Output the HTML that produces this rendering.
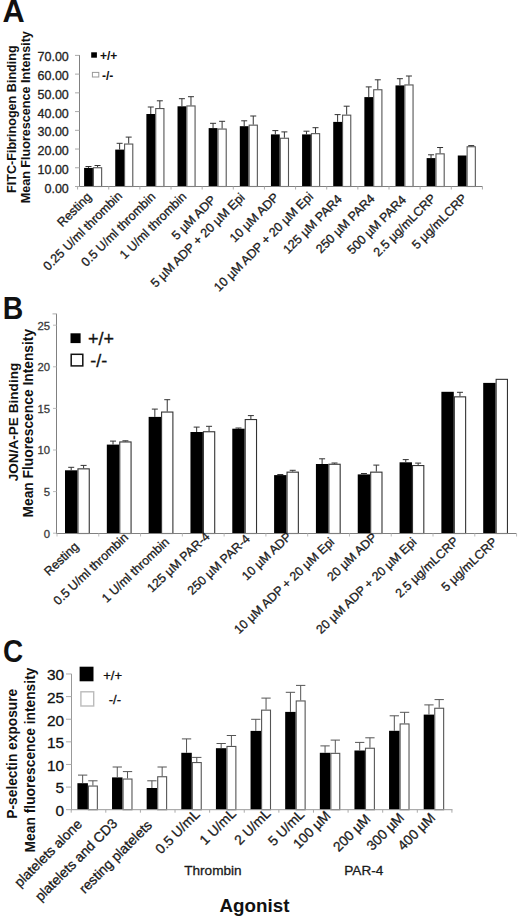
<!DOCTYPE html>
<html><head><meta charset="utf-8"><style>
html,body{margin:0;padding:0;background:#fff;}
svg{display:block;}
text{font-family:"Liberation Sans", sans-serif;}
</style></head><body>
<svg width="520" height="918" viewBox="0 0 520 918" font-family='"Liberation Sans", sans-serif'>
<rect x="0" y="0" width="520" height="918" fill="#fff"/>
<rect x="84.1" y="167.9" width="8.8" height="18.6" fill="#000"/>
<line x1="88.5" y1="167.9" x2="88.5" y2="166.5" stroke="#333" stroke-width="1"/>
<line x1="85.5" y1="166.5" x2="91.5" y2="166.5" stroke="#333" stroke-width="1"/>
<rect x="93.45" y="167.75" width="8.2" height="18.75" fill="#fff" stroke="#555" stroke-width="1.1"/>
<line x1="97.55" y1="167.2" x2="97.55" y2="165.5" stroke="#333" stroke-width="1"/>
<line x1="94.55" y1="165.5" x2="100.55" y2="165.5" stroke="#333" stroke-width="1"/>
<rect x="115.24" y="149.6" width="8.8" height="36.9" fill="#000"/>
<line x1="119.64" y1="149.6" x2="119.64" y2="143.3" stroke="#333" stroke-width="1"/>
<line x1="116.64" y1="143.3" x2="122.64" y2="143.3" stroke="#333" stroke-width="1"/>
<rect x="124.59" y="144.05" width="8.2" height="42.45" fill="#fff" stroke="#555" stroke-width="1.1"/>
<line x1="128.69" y1="143.5" x2="128.69" y2="137.1" stroke="#333" stroke-width="1"/>
<line x1="125.69" y1="137.1" x2="131.69" y2="137.1" stroke="#333" stroke-width="1"/>
<rect x="146.38" y="114" width="8.8" height="72.5" fill="#000"/>
<line x1="150.78" y1="114" x2="150.78" y2="107" stroke="#333" stroke-width="1"/>
<line x1="147.78" y1="107" x2="153.78" y2="107" stroke="#333" stroke-width="1"/>
<rect x="155.73" y="108.55" width="8.2" height="77.95" fill="#fff" stroke="#555" stroke-width="1.1"/>
<line x1="159.83" y1="108" x2="159.83" y2="100.8" stroke="#333" stroke-width="1"/>
<line x1="156.83" y1="100.8" x2="162.83" y2="100.8" stroke="#333" stroke-width="1"/>
<rect x="177.52" y="106.3" width="8.8" height="80.2" fill="#000"/>
<line x1="181.92" y1="106.3" x2="181.92" y2="98.7" stroke="#333" stroke-width="1"/>
<line x1="178.92" y1="98.7" x2="184.92" y2="98.7" stroke="#333" stroke-width="1"/>
<rect x="186.87" y="105.95" width="8.2" height="80.55" fill="#fff" stroke="#555" stroke-width="1.1"/>
<line x1="190.97" y1="105.4" x2="190.97" y2="96.7" stroke="#333" stroke-width="1"/>
<line x1="187.97" y1="96.7" x2="193.97" y2="96.7" stroke="#333" stroke-width="1"/>
<rect x="208.66" y="128.1" width="8.8" height="58.4" fill="#000"/>
<line x1="213.06" y1="128.1" x2="213.06" y2="123.3" stroke="#333" stroke-width="1"/>
<line x1="210.06" y1="123.3" x2="216.06" y2="123.3" stroke="#333" stroke-width="1"/>
<rect x="218.01" y="129.05" width="8.2" height="57.45" fill="#fff" stroke="#555" stroke-width="1.1"/>
<line x1="222.11" y1="128.5" x2="222.11" y2="121.3" stroke="#333" stroke-width="1"/>
<line x1="219.11" y1="121.3" x2="225.11" y2="121.3" stroke="#333" stroke-width="1"/>
<rect x="239.8" y="126.2" width="8.8" height="60.3" fill="#000"/>
<line x1="244.2" y1="126.2" x2="244.2" y2="120.8" stroke="#333" stroke-width="1"/>
<line x1="241.2" y1="120.8" x2="247.2" y2="120.8" stroke="#333" stroke-width="1"/>
<rect x="249.15" y="125.15" width="8.2" height="61.35" fill="#fff" stroke="#555" stroke-width="1.1"/>
<line x1="253.25" y1="124.6" x2="253.25" y2="116" stroke="#333" stroke-width="1"/>
<line x1="250.25" y1="116" x2="256.25" y2="116" stroke="#333" stroke-width="1"/>
<rect x="270.94" y="134.4" width="8.8" height="52.1" fill="#000"/>
<line x1="275.34" y1="134.4" x2="275.34" y2="130.6" stroke="#333" stroke-width="1"/>
<line x1="272.34" y1="130.6" x2="278.34" y2="130.6" stroke="#333" stroke-width="1"/>
<rect x="280.29" y="138.25" width="8.2" height="48.25" fill="#fff" stroke="#555" stroke-width="1.1"/>
<line x1="284.39" y1="137.7" x2="284.39" y2="131.9" stroke="#333" stroke-width="1"/>
<line x1="281.39" y1="131.9" x2="287.39" y2="131.9" stroke="#333" stroke-width="1"/>
<rect x="302.08" y="134.4" width="8.8" height="52.1" fill="#000"/>
<line x1="306.48" y1="134.4" x2="306.48" y2="131.2" stroke="#333" stroke-width="1"/>
<line x1="303.48" y1="131.2" x2="309.48" y2="131.2" stroke="#333" stroke-width="1"/>
<rect x="311.43" y="133.65" width="8.2" height="52.85" fill="#fff" stroke="#555" stroke-width="1.1"/>
<line x1="315.53" y1="133.1" x2="315.53" y2="127.7" stroke="#333" stroke-width="1"/>
<line x1="312.53" y1="127.7" x2="318.53" y2="127.7" stroke="#333" stroke-width="1"/>
<rect x="333.22" y="121.9" width="8.8" height="64.6" fill="#000"/>
<line x1="337.62" y1="121.9" x2="337.62" y2="114.6" stroke="#333" stroke-width="1"/>
<line x1="334.62" y1="114.6" x2="340.62" y2="114.6" stroke="#333" stroke-width="1"/>
<rect x="342.57" y="115.15" width="8.2" height="71.35" fill="#fff" stroke="#555" stroke-width="1.1"/>
<line x1="346.67" y1="114.6" x2="346.67" y2="106.2" stroke="#333" stroke-width="1"/>
<line x1="343.67" y1="106.2" x2="349.67" y2="106.2" stroke="#333" stroke-width="1"/>
<rect x="364.36" y="97.1" width="8.8" height="89.4" fill="#000"/>
<line x1="368.76" y1="97.1" x2="368.76" y2="86.9" stroke="#333" stroke-width="1"/>
<line x1="365.76" y1="86.9" x2="371.76" y2="86.9" stroke="#333" stroke-width="1"/>
<rect x="373.71" y="89.75" width="8.2" height="96.75" fill="#fff" stroke="#555" stroke-width="1.1"/>
<line x1="377.81" y1="89.2" x2="377.81" y2="79.8" stroke="#333" stroke-width="1"/>
<line x1="374.81" y1="79.8" x2="380.81" y2="79.8" stroke="#333" stroke-width="1"/>
<rect x="395.5" y="85.4" width="8.8" height="101.1" fill="#000"/>
<line x1="399.9" y1="85.4" x2="399.9" y2="78.7" stroke="#333" stroke-width="1"/>
<line x1="396.9" y1="78.7" x2="402.9" y2="78.7" stroke="#333" stroke-width="1"/>
<rect x="404.85" y="84.95" width="8.2" height="101.55" fill="#fff" stroke="#555" stroke-width="1.1"/>
<line x1="408.95" y1="84.4" x2="408.95" y2="76" stroke="#333" stroke-width="1"/>
<line x1="405.95" y1="76" x2="411.95" y2="76" stroke="#333" stroke-width="1"/>
<rect x="426.64" y="158.1" width="8.8" height="28.4" fill="#000"/>
<line x1="431.04" y1="158.1" x2="431.04" y2="154.8" stroke="#333" stroke-width="1"/>
<line x1="428.04" y1="154.8" x2="434.04" y2="154.8" stroke="#333" stroke-width="1"/>
<rect x="435.99" y="153.85" width="8.2" height="32.65" fill="#fff" stroke="#555" stroke-width="1.1"/>
<line x1="440.09" y1="153.3" x2="440.09" y2="147.5" stroke="#333" stroke-width="1"/>
<line x1="437.09" y1="147.5" x2="443.09" y2="147.5" stroke="#333" stroke-width="1"/>
<rect x="457.78" y="155.5" width="8.8" height="31" fill="#000"/>
<rect x="467.13" y="146.75" width="8.2" height="39.75" fill="#fff" stroke="#555" stroke-width="1.1"/>
<line x1="471.23" y1="146.2" x2="471.23" y2="145.6" stroke="#333" stroke-width="1"/>
<line x1="468.23" y1="145.6" x2="474.23" y2="145.6" stroke="#333" stroke-width="1"/>
<line x1="79.5" y1="55" x2="79.5" y2="187" stroke="#808080" stroke-width="1"/>
<line x1="79" y1="186.5" x2="482.5" y2="186.5" stroke="#808080" stroke-width="1"/>
<line x1="75" y1="186.5" x2="79.5" y2="186.5" stroke="#aaa" stroke-width="1"/>
<text x="68.8" y="192.5" font-size="12.5" text-anchor="end" fill="#222" stroke="#222" stroke-width="0.3">0.00</text>
<line x1="75" y1="167.77" x2="79.5" y2="167.77" stroke="#aaa" stroke-width="1"/>
<text x="68.8" y="173.77" font-size="12.5" text-anchor="end" fill="#222" stroke="#222" stroke-width="0.3">10.00</text>
<line x1="75" y1="149.04" x2="79.5" y2="149.04" stroke="#aaa" stroke-width="1"/>
<text x="68.8" y="155.04" font-size="12.5" text-anchor="end" fill="#222" stroke="#222" stroke-width="0.3">20.00</text>
<line x1="75" y1="130.31" x2="79.5" y2="130.31" stroke="#aaa" stroke-width="1"/>
<text x="68.8" y="136.31" font-size="12.5" text-anchor="end" fill="#222" stroke="#222" stroke-width="0.3">30.00</text>
<line x1="75" y1="111.58" x2="79.5" y2="111.58" stroke="#aaa" stroke-width="1"/>
<text x="68.8" y="117.58" font-size="12.5" text-anchor="end" fill="#222" stroke="#222" stroke-width="0.3">40.00</text>
<line x1="75" y1="92.85" x2="79.5" y2="92.85" stroke="#aaa" stroke-width="1"/>
<text x="68.8" y="98.85" font-size="12.5" text-anchor="end" fill="#222" stroke="#222" stroke-width="0.3">50.00</text>
<line x1="75" y1="74.12" x2="79.5" y2="74.12" stroke="#aaa" stroke-width="1"/>
<text x="68.8" y="80.12" font-size="12.5" text-anchor="end" fill="#222" stroke="#222" stroke-width="0.3">60.00</text>
<line x1="75" y1="55.39" x2="79.5" y2="55.39" stroke="#aaa" stroke-width="1"/>
<text x="68.8" y="61.39" font-size="12.5" text-anchor="end" fill="#222" stroke="#222" stroke-width="0.3">70.00</text>
<line x1="77.6" y1="186.5" x2="77.6" y2="189.5" stroke="#aaa" stroke-width="1"/>
<line x1="108.74" y1="186.5" x2="108.74" y2="189.5" stroke="#aaa" stroke-width="1"/>
<line x1="139.88" y1="186.5" x2="139.88" y2="189.5" stroke="#aaa" stroke-width="1"/>
<line x1="171.02" y1="186.5" x2="171.02" y2="189.5" stroke="#aaa" stroke-width="1"/>
<line x1="202.16" y1="186.5" x2="202.16" y2="189.5" stroke="#aaa" stroke-width="1"/>
<line x1="233.3" y1="186.5" x2="233.3" y2="189.5" stroke="#aaa" stroke-width="1"/>
<line x1="264.44" y1="186.5" x2="264.44" y2="189.5" stroke="#aaa" stroke-width="1"/>
<line x1="295.58" y1="186.5" x2="295.58" y2="189.5" stroke="#aaa" stroke-width="1"/>
<line x1="326.72" y1="186.5" x2="326.72" y2="189.5" stroke="#aaa" stroke-width="1"/>
<line x1="357.86" y1="186.5" x2="357.86" y2="189.5" stroke="#aaa" stroke-width="1"/>
<line x1="389" y1="186.5" x2="389" y2="189.5" stroke="#aaa" stroke-width="1"/>
<line x1="420.14" y1="186.5" x2="420.14" y2="189.5" stroke="#aaa" stroke-width="1"/>
<line x1="451.28" y1="186.5" x2="451.28" y2="189.5" stroke="#aaa" stroke-width="1"/>
<line x1="482.42" y1="186.5" x2="482.42" y2="189.5" stroke="#aaa" stroke-width="1"/>
<text x="92.24" y="197.6" font-size="12.5" text-anchor="end" fill="#1a1a1a" stroke="#1a1a1a" stroke-width="0.3" transform="rotate(-45 92.24 197.6)">Resting</text>
<text x="122.92" y="196.5" font-size="12.5" text-anchor="end" fill="#1a1a1a" stroke="#1a1a1a" stroke-width="0.3" transform="rotate(-45 122.92 196.5)">0.25 U/ml thrombin</text>
<text x="156.1" y="197.4" font-size="12.5" text-anchor="end" fill="#1a1a1a" stroke="#1a1a1a" stroke-width="0.3" transform="rotate(-45 156.1 197.4)">0.5 U/ml thrombin</text>
<text x="187.18" y="197.4" font-size="12.5" text-anchor="end" fill="#1a1a1a" stroke="#1a1a1a" stroke-width="0.3" transform="rotate(-45 187.18 197.4)">1 U/ml thrombin</text>
<text x="216.76" y="200.5" font-size="12.5" text-anchor="end" fill="#1a1a1a" stroke="#1a1a1a" stroke-width="0.3" transform="rotate(-45 216.76 200.5)">5 µM ADP</text>
<text x="245.54" y="198.2" font-size="12.5" text-anchor="end" fill="#1a1a1a" stroke="#1a1a1a" stroke-width="0.3" transform="rotate(-45 245.54 198.2)">5 µM ADP + 20 µM Epi</text>
<text x="279.72" y="198.2" font-size="12.5" text-anchor="end" fill="#1a1a1a" stroke="#1a1a1a" stroke-width="0.3" transform="rotate(-45 279.72 198.2)">10 µM ADP</text>
<text x="313.9" y="197.4" font-size="12.5" text-anchor="end" fill="#1a1a1a" stroke="#1a1a1a" stroke-width="0.3" transform="rotate(-45 313.9 197.4)">10 µM ADP + 20 µM Epi</text>
<text x="342.78" y="199.9" font-size="12.5" text-anchor="end" fill="#1a1a1a" stroke="#1a1a1a" stroke-width="0.3" transform="rotate(-45 342.78 199.9)">125 µM PAR4</text>
<text x="375.56" y="199.4" font-size="12.5" text-anchor="end" fill="#1a1a1a" stroke="#1a1a1a" stroke-width="0.3" transform="rotate(-45 375.56 199.4)">250 µM PAR4</text>
<text x="406.84" y="200.5" font-size="12.5" text-anchor="end" fill="#1a1a1a" stroke="#1a1a1a" stroke-width="0.3" transform="rotate(-45 406.84 200.5)">500 µM PAR4</text>
<text x="436.62" y="199" font-size="12.5" text-anchor="end" fill="#1a1a1a" stroke="#1a1a1a" stroke-width="0.3" transform="rotate(-45 436.62 199)">2.5 µg/mLCRP</text>
<text x="467.7" y="199" font-size="12.5" text-anchor="end" fill="#1a1a1a" stroke="#1a1a1a" stroke-width="0.3" transform="rotate(-45 467.7 199)">5 µg/mLCRP</text>
<rect x="65" y="470.3" width="12.4" height="63.2" fill="#000"/>
<line x1="71.2" y1="470.3" x2="71.2" y2="467.3" stroke="#333" stroke-width="1"/>
<line x1="68.2" y1="467.3" x2="74.2" y2="467.3" stroke="#333" stroke-width="1"/>
<rect x="77.95" y="468.85" width="11.3" height="64.65" fill="#fff" stroke="#333" stroke-width="1.1"/>
<line x1="83.6" y1="468.3" x2="83.6" y2="465.4" stroke="#333" stroke-width="1"/>
<line x1="80.6" y1="465.4" x2="86.6" y2="465.4" stroke="#333" stroke-width="1"/>
<rect x="106.82" y="444.6" width="12.4" height="88.9" fill="#000"/>
<line x1="113.02" y1="444.6" x2="113.02" y2="441.1" stroke="#333" stroke-width="1"/>
<line x1="110.02" y1="441.1" x2="116.02" y2="441.1" stroke="#333" stroke-width="1"/>
<rect x="119.77" y="441.95" width="11.3" height="91.55" fill="#fff" stroke="#333" stroke-width="1.1"/>
<line x1="125.42" y1="441.4" x2="125.42" y2="440.8" stroke="#333" stroke-width="1"/>
<line x1="122.42" y1="440.8" x2="128.42" y2="440.8" stroke="#333" stroke-width="1"/>
<rect x="148.64" y="416.9" width="12.4" height="116.6" fill="#000"/>
<line x1="154.84" y1="416.9" x2="154.84" y2="409.1" stroke="#333" stroke-width="1"/>
<line x1="151.84" y1="409.1" x2="157.84" y2="409.1" stroke="#333" stroke-width="1"/>
<rect x="161.59" y="412.05" width="11.3" height="121.45" fill="#fff" stroke="#333" stroke-width="1.1"/>
<line x1="167.24" y1="411.5" x2="167.24" y2="399.7" stroke="#333" stroke-width="1"/>
<line x1="164.24" y1="399.7" x2="170.24" y2="399.7" stroke="#333" stroke-width="1"/>
<rect x="190.46" y="432" width="12.4" height="101.5" fill="#000"/>
<line x1="196.66" y1="432" x2="196.66" y2="427.1" stroke="#333" stroke-width="1"/>
<line x1="193.66" y1="427.1" x2="199.66" y2="427.1" stroke="#333" stroke-width="1"/>
<rect x="203.41" y="431.75" width="11.3" height="101.75" fill="#fff" stroke="#333" stroke-width="1.1"/>
<line x1="209.06" y1="431.2" x2="209.06" y2="426.3" stroke="#333" stroke-width="1"/>
<line x1="206.06" y1="426.3" x2="212.06" y2="426.3" stroke="#333" stroke-width="1"/>
<rect x="232.28" y="428.7" width="12.4" height="104.8" fill="#000"/>
<line x1="238.48" y1="428.7" x2="238.48" y2="428" stroke="#333" stroke-width="1"/>
<line x1="235.48" y1="428" x2="241.48" y2="428" stroke="#333" stroke-width="1"/>
<rect x="245.23" y="419.55" width="11.3" height="113.95" fill="#fff" stroke="#333" stroke-width="1.1"/>
<line x1="250.88" y1="419" x2="250.88" y2="415.6" stroke="#333" stroke-width="1"/>
<line x1="247.88" y1="415.6" x2="253.88" y2="415.6" stroke="#333" stroke-width="1"/>
<rect x="274.1" y="475.1" width="12.4" height="58.4" fill="#000"/>
<line x1="280.3" y1="475.1" x2="280.3" y2="474.5" stroke="#333" stroke-width="1"/>
<line x1="277.3" y1="474.5" x2="283.3" y2="474.5" stroke="#333" stroke-width="1"/>
<rect x="287.05" y="472.15" width="11.3" height="61.35" fill="#fff" stroke="#333" stroke-width="1.1"/>
<line x1="292.7" y1="471.6" x2="292.7" y2="470.3" stroke="#333" stroke-width="1"/>
<line x1="289.7" y1="470.3" x2="295.7" y2="470.3" stroke="#333" stroke-width="1"/>
<rect x="315.92" y="464" width="12.4" height="69.5" fill="#000"/>
<line x1="322.12" y1="464" x2="322.12" y2="458.8" stroke="#333" stroke-width="1"/>
<line x1="319.12" y1="458.8" x2="325.12" y2="458.8" stroke="#333" stroke-width="1"/>
<rect x="328.87" y="464.25" width="11.3" height="69.25" fill="#fff" stroke="#333" stroke-width="1.1"/>
<line x1="334.52" y1="463.7" x2="334.52" y2="463" stroke="#333" stroke-width="1"/>
<line x1="331.52" y1="463" x2="337.52" y2="463" stroke="#333" stroke-width="1"/>
<rect x="357.74" y="474.4" width="12.4" height="59.1" fill="#000"/>
<line x1="363.94" y1="474.4" x2="363.94" y2="473.5" stroke="#333" stroke-width="1"/>
<line x1="360.94" y1="473.5" x2="366.94" y2="473.5" stroke="#333" stroke-width="1"/>
<rect x="370.69" y="472.15" width="11.3" height="61.35" fill="#fff" stroke="#333" stroke-width="1.1"/>
<line x1="376.34" y1="471.6" x2="376.34" y2="465.1" stroke="#333" stroke-width="1"/>
<line x1="373.34" y1="465.1" x2="379.34" y2="465.1" stroke="#333" stroke-width="1"/>
<rect x="399.56" y="462.3" width="12.4" height="71.2" fill="#000"/>
<line x1="405.76" y1="462.3" x2="405.76" y2="459.6" stroke="#333" stroke-width="1"/>
<line x1="402.76" y1="459.6" x2="408.76" y2="459.6" stroke="#333" stroke-width="1"/>
<rect x="412.51" y="465.55" width="11.3" height="67.95" fill="#fff" stroke="#333" stroke-width="1.1"/>
<line x1="418.16" y1="465" x2="418.16" y2="463.1" stroke="#333" stroke-width="1"/>
<line x1="415.16" y1="463.1" x2="421.16" y2="463.1" stroke="#333" stroke-width="1"/>
<rect x="441.38" y="391.8" width="12.4" height="141.7" fill="#000"/>
<rect x="454.33" y="396.85" width="11.3" height="136.65" fill="#fff" stroke="#333" stroke-width="1.1"/>
<line x1="459.98" y1="396.3" x2="459.98" y2="392.3" stroke="#333" stroke-width="1"/>
<line x1="456.98" y1="392.3" x2="462.98" y2="392.3" stroke="#333" stroke-width="1"/>
<rect x="483.2" y="382.9" width="12.4" height="150.6" fill="#000"/>
<rect x="496.15" y="379.35" width="11.3" height="154.15" fill="#fff" stroke="#333" stroke-width="1.1"/>
<line x1="56.5" y1="313.7" x2="56.5" y2="534" stroke="#808080" stroke-width="1"/>
<line x1="56" y1="533.5" x2="516.5" y2="533.5" stroke="#808080" stroke-width="1"/>
<line x1="53" y1="533.2" x2="56.5" y2="533.2" stroke="#bbb" stroke-width="1"/>
<text x="50" y="537.5" font-size="11.3" text-anchor="end" fill="#3a3a3a" stroke="#3a3a3a" stroke-width="0.3">0</text>
<line x1="53" y1="491.6" x2="56.5" y2="491.6" stroke="#bbb" stroke-width="1"/>
<text x="50" y="495.9" font-size="11.3" text-anchor="end" fill="#3a3a3a" stroke="#3a3a3a" stroke-width="0.3">5</text>
<line x1="53" y1="450" x2="56.5" y2="450" stroke="#bbb" stroke-width="1"/>
<text x="50" y="454.3" font-size="11.3" text-anchor="end" fill="#3a3a3a" stroke="#3a3a3a" stroke-width="0.3">10</text>
<line x1="53" y1="408.4" x2="56.5" y2="408.4" stroke="#bbb" stroke-width="1"/>
<text x="50" y="412.7" font-size="11.3" text-anchor="end" fill="#3a3a3a" stroke="#3a3a3a" stroke-width="0.3">15</text>
<line x1="53" y1="366.8" x2="56.5" y2="366.8" stroke="#bbb" stroke-width="1"/>
<text x="50" y="371.1" font-size="11.3" text-anchor="end" fill="#3a3a3a" stroke="#3a3a3a" stroke-width="0.3">20</text>
<line x1="53" y1="325.2" x2="56.5" y2="325.2" stroke="#bbb" stroke-width="1"/>
<text x="50" y="329.5" font-size="11.3" text-anchor="end" fill="#3a3a3a" stroke="#3a3a3a" stroke-width="0.3">25</text>
<line x1="57" y1="533.5" x2="57" y2="536.5" stroke="#bbb" stroke-width="1"/>
<line x1="98.78" y1="533.5" x2="98.78" y2="536.5" stroke="#bbb" stroke-width="1"/>
<line x1="140.56" y1="533.5" x2="140.56" y2="536.5" stroke="#bbb" stroke-width="1"/>
<line x1="182.34" y1="533.5" x2="182.34" y2="536.5" stroke="#bbb" stroke-width="1"/>
<line x1="224.12" y1="533.5" x2="224.12" y2="536.5" stroke="#bbb" stroke-width="1"/>
<line x1="265.9" y1="533.5" x2="265.9" y2="536.5" stroke="#bbb" stroke-width="1"/>
<line x1="307.68" y1="533.5" x2="307.68" y2="536.5" stroke="#bbb" stroke-width="1"/>
<line x1="349.46" y1="533.5" x2="349.46" y2="536.5" stroke="#bbb" stroke-width="1"/>
<line x1="391.24" y1="533.5" x2="391.24" y2="536.5" stroke="#bbb" stroke-width="1"/>
<line x1="433.02" y1="533.5" x2="433.02" y2="536.5" stroke="#bbb" stroke-width="1"/>
<line x1="474.8" y1="533.5" x2="474.8" y2="536.5" stroke="#bbb" stroke-width="1"/>
<line x1="516.58" y1="533.5" x2="516.58" y2="536.5" stroke="#bbb" stroke-width="1"/>
<text x="79.42" y="547.5" font-size="12.4" text-anchor="end" fill="#1a1a1a" stroke="#1a1a1a" stroke-width="0.3" transform="rotate(-43.6 79.42 547.5)">Resting</text>
<text x="128.97" y="538.3" font-size="12.4" text-anchor="end" fill="#1a1a1a" stroke="#1a1a1a" stroke-width="0.3" transform="rotate(-43.6 128.97 538.3)">0.5 U/ml thrombin</text>
<text x="170.03" y="542.9" font-size="12.4" text-anchor="end" fill="#1a1a1a" stroke="#1a1a1a" stroke-width="0.3" transform="rotate(-43.6 170.03 542.9)">1 U/ml thrombin</text>
<text x="210.38" y="537.5" font-size="12.4" text-anchor="end" fill="#1a1a1a" stroke="#1a1a1a" stroke-width="0.3" transform="rotate(-43.6 210.38 537.5)">125 µM PAR-4</text>
<text x="250.63" y="539.8" font-size="12.4" text-anchor="end" fill="#1a1a1a" stroke="#1a1a1a" stroke-width="0.3" transform="rotate(-43.6 250.63 539.8)">250 µM PAR-4</text>
<text x="292.28" y="537.5" font-size="12.4" text-anchor="end" fill="#1a1a1a" stroke="#1a1a1a" stroke-width="0.3" transform="rotate(-43.6 292.28 537.5)">10 µM ADP</text>
<text x="335.13" y="542.9" font-size="12.4" text-anchor="end" fill="#1a1a1a" stroke="#1a1a1a" stroke-width="0.3" transform="rotate(-43.6 335.13 542.9)">10 µM ADP + 20 µM Epi</text>
<text x="377.68" y="538.3" font-size="12.4" text-anchor="end" fill="#1a1a1a" stroke="#1a1a1a" stroke-width="0.3" transform="rotate(-43.6 377.68 538.3)">20 µM ADP</text>
<text x="417.33" y="542.9" font-size="12.4" text-anchor="end" fill="#1a1a1a" stroke="#1a1a1a" stroke-width="0.3" transform="rotate(-43.6 417.33 542.9)">20 µM ADP + 20 µM Epi</text>
<text x="459.18" y="542.1" font-size="12.4" text-anchor="end" fill="#1a1a1a" stroke="#1a1a1a" stroke-width="0.3" transform="rotate(-43.6 459.18 542.1)">2.5 µg/mLCRP</text>
<text x="497.93" y="542.8" font-size="12.4" text-anchor="end" fill="#1a1a1a" stroke="#1a1a1a" stroke-width="0.3" transform="rotate(-43.6 497.93 542.8)">5 µg/mLCRP</text>
<rect x="77.4" y="783.2" width="10.5" height="26.5" fill="#000"/>
<line x1="82.65" y1="783.2" x2="82.65" y2="775.1" stroke="#555" stroke-width="1"/>
<line x1="78" y1="775.1" x2="87.3" y2="775.1" stroke="#555" stroke-width="1"/>
<rect x="88.45" y="786.05" width="8.9" height="23.65" fill="#fff" stroke="#555" stroke-width="1.1"/>
<line x1="92.9" y1="785.5" x2="92.9" y2="780.8" stroke="#555" stroke-width="1"/>
<line x1="88.25" y1="780.8" x2="97.55" y2="780.8" stroke="#555" stroke-width="1"/>
<rect x="112.03" y="777.4" width="10.5" height="32.3" fill="#000"/>
<line x1="117.28" y1="777.4" x2="117.28" y2="767" stroke="#555" stroke-width="1"/>
<line x1="112.63" y1="767" x2="121.93" y2="767" stroke="#555" stroke-width="1"/>
<rect x="123.08" y="779.05" width="8.9" height="30.65" fill="#fff" stroke="#555" stroke-width="1.1"/>
<line x1="127.53" y1="778.5" x2="127.53" y2="771.6" stroke="#555" stroke-width="1"/>
<line x1="122.88" y1="771.6" x2="132.18" y2="771.6" stroke="#555" stroke-width="1"/>
<rect x="146.66" y="788" width="10.5" height="21.7" fill="#000"/>
<line x1="151.91" y1="788" x2="151.91" y2="780.8" stroke="#555" stroke-width="1"/>
<line x1="147.26" y1="780.8" x2="156.56" y2="780.8" stroke="#555" stroke-width="1"/>
<rect x="157.71" y="776.75" width="8.9" height="32.95" fill="#fff" stroke="#555" stroke-width="1.1"/>
<line x1="162.16" y1="776.2" x2="162.16" y2="767" stroke="#555" stroke-width="1"/>
<line x1="157.51" y1="767" x2="166.81" y2="767" stroke="#555" stroke-width="1"/>
<rect x="181.29" y="752.8" width="10.5" height="56.9" fill="#000"/>
<line x1="186.54" y1="752.8" x2="186.54" y2="738.9" stroke="#555" stroke-width="1"/>
<line x1="181.89" y1="738.9" x2="191.19" y2="738.9" stroke="#555" stroke-width="1"/>
<rect x="192.34" y="762.55" width="8.9" height="47.15" fill="#fff" stroke="#555" stroke-width="1.1"/>
<line x1="196.79" y1="762" x2="196.79" y2="757.4" stroke="#555" stroke-width="1"/>
<line x1="192.14" y1="757.4" x2="201.44" y2="757.4" stroke="#555" stroke-width="1"/>
<rect x="215.92" y="748.2" width="10.5" height="61.5" fill="#000"/>
<line x1="221.17" y1="748.2" x2="221.17" y2="743.5" stroke="#555" stroke-width="1"/>
<line x1="216.52" y1="743.5" x2="225.82" y2="743.5" stroke="#555" stroke-width="1"/>
<rect x="226.97" y="746.45" width="8.9" height="63.25" fill="#fff" stroke="#555" stroke-width="1.1"/>
<line x1="231.42" y1="745.9" x2="231.42" y2="735.5" stroke="#555" stroke-width="1"/>
<line x1="226.77" y1="735.5" x2="236.07" y2="735.5" stroke="#555" stroke-width="1"/>
<rect x="250.55" y="730.9" width="10.5" height="78.8" fill="#000"/>
<line x1="255.8" y1="730.9" x2="255.8" y2="719.3" stroke="#555" stroke-width="1"/>
<line x1="251.15" y1="719.3" x2="260.45" y2="719.3" stroke="#555" stroke-width="1"/>
<rect x="261.6" y="710.15" width="8.9" height="99.55" fill="#fff" stroke="#555" stroke-width="1.1"/>
<line x1="266.05" y1="709.6" x2="266.05" y2="698.1" stroke="#555" stroke-width="1"/>
<line x1="261.4" y1="698.1" x2="270.7" y2="698.1" stroke="#555" stroke-width="1"/>
<rect x="285.18" y="711.9" width="10.5" height="97.8" fill="#000"/>
<line x1="290.43" y1="711.9" x2="290.43" y2="692.3" stroke="#555" stroke-width="1"/>
<line x1="285.78" y1="692.3" x2="295.08" y2="692.3" stroke="#555" stroke-width="1"/>
<rect x="296.23" y="700.95" width="8.9" height="108.75" fill="#fff" stroke="#555" stroke-width="1.1"/>
<line x1="300.68" y1="700.4" x2="300.68" y2="685.4" stroke="#555" stroke-width="1"/>
<line x1="296.03" y1="685.4" x2="305.33" y2="685.4" stroke="#555" stroke-width="1"/>
<rect x="319.81" y="752.8" width="10.5" height="56.9" fill="#000"/>
<line x1="325.06" y1="752.8" x2="325.06" y2="745.9" stroke="#555" stroke-width="1"/>
<line x1="320.41" y1="745.9" x2="329.71" y2="745.9" stroke="#555" stroke-width="1"/>
<rect x="330.86" y="753.35" width="8.9" height="56.35" fill="#fff" stroke="#555" stroke-width="1.1"/>
<line x1="335.31" y1="752.8" x2="335.31" y2="740.1" stroke="#555" stroke-width="1"/>
<line x1="330.66" y1="740.1" x2="339.96" y2="740.1" stroke="#555" stroke-width="1"/>
<rect x="354.44" y="750.5" width="10.5" height="59.2" fill="#000"/>
<line x1="359.69" y1="750.5" x2="359.69" y2="742.4" stroke="#555" stroke-width="1"/>
<line x1="355.04" y1="742.4" x2="364.34" y2="742.4" stroke="#555" stroke-width="1"/>
<rect x="365.49" y="748.25" width="8.9" height="61.45" fill="#fff" stroke="#555" stroke-width="1.1"/>
<line x1="369.94" y1="747.7" x2="369.94" y2="737.8" stroke="#555" stroke-width="1"/>
<line x1="365.29" y1="737.8" x2="374.59" y2="737.8" stroke="#555" stroke-width="1"/>
<rect x="389.07" y="730.8" width="10.5" height="78.9" fill="#000"/>
<line x1="394.32" y1="730.8" x2="394.32" y2="715.8" stroke="#555" stroke-width="1"/>
<line x1="389.67" y1="715.8" x2="398.97" y2="715.8" stroke="#555" stroke-width="1"/>
<rect x="400.12" y="723.95" width="8.9" height="85.75" fill="#fff" stroke="#555" stroke-width="1.1"/>
<line x1="404.57" y1="723.4" x2="404.57" y2="712.3" stroke="#555" stroke-width="1"/>
<line x1="399.92" y1="712.3" x2="409.22" y2="712.3" stroke="#555" stroke-width="1"/>
<rect x="423.7" y="714.6" width="10.5" height="95.1" fill="#000"/>
<line x1="428.95" y1="714.6" x2="428.95" y2="704.9" stroke="#555" stroke-width="1"/>
<line x1="424.3" y1="704.9" x2="433.6" y2="704.9" stroke="#555" stroke-width="1"/>
<rect x="434.75" y="708.25" width="8.9" height="101.45" fill="#fff" stroke="#555" stroke-width="1.1"/>
<line x1="439.2" y1="707.7" x2="439.2" y2="699.6" stroke="#555" stroke-width="1"/>
<line x1="434.55" y1="699.6" x2="443.85" y2="699.6" stroke="#555" stroke-width="1"/>
<line x1="71.5" y1="673.9" x2="71.5" y2="810.2" stroke="#999" stroke-width="1"/>
<line x1="71" y1="809.7" x2="452.5" y2="809.7" stroke="#999" stroke-width="1"/>
<line x1="66" y1="809.7" x2="71.5" y2="809.7" stroke="#aaa" stroke-width="1"/>
<text x="64" y="816.1" font-size="15.4" text-anchor="end" fill="#111" stroke="#111" stroke-width="0.3">0</text>
<line x1="66" y1="787.08" x2="71.5" y2="787.08" stroke="#aaa" stroke-width="1"/>
<text x="64" y="793.48" font-size="15.4" text-anchor="end" fill="#111" stroke="#111" stroke-width="0.3">5</text>
<line x1="66" y1="764.46" x2="71.5" y2="764.46" stroke="#aaa" stroke-width="1"/>
<text x="64" y="770.86" font-size="15.4" text-anchor="end" fill="#111" stroke="#111" stroke-width="0.3">10</text>
<line x1="66" y1="741.84" x2="71.5" y2="741.84" stroke="#aaa" stroke-width="1"/>
<text x="64" y="748.24" font-size="15.4" text-anchor="end" fill="#111" stroke="#111" stroke-width="0.3">15</text>
<line x1="66" y1="719.22" x2="71.5" y2="719.22" stroke="#aaa" stroke-width="1"/>
<text x="64" y="725.62" font-size="15.4" text-anchor="end" fill="#111" stroke="#111" stroke-width="0.3">20</text>
<line x1="66" y1="696.6" x2="71.5" y2="696.6" stroke="#aaa" stroke-width="1"/>
<text x="64" y="703" font-size="15.4" text-anchor="end" fill="#111" stroke="#111" stroke-width="0.3">25</text>
<line x1="66" y1="673.98" x2="71.5" y2="673.98" stroke="#aaa" stroke-width="1"/>
<text x="64" y="680.38" font-size="15.4" text-anchor="end" fill="#111" stroke="#111" stroke-width="0.3">30</text>
<line x1="71.2" y1="809.7" x2="71.2" y2="812.7" stroke="#aaa" stroke-width="1"/>
<line x1="105.81" y1="809.7" x2="105.81" y2="812.7" stroke="#aaa" stroke-width="1"/>
<line x1="140.42" y1="809.7" x2="140.42" y2="812.7" stroke="#aaa" stroke-width="1"/>
<line x1="175.03" y1="809.7" x2="175.03" y2="812.7" stroke="#aaa" stroke-width="1"/>
<line x1="209.64" y1="809.7" x2="209.64" y2="812.7" stroke="#aaa" stroke-width="1"/>
<line x1="244.25" y1="809.7" x2="244.25" y2="812.7" stroke="#aaa" stroke-width="1"/>
<line x1="278.86" y1="809.7" x2="278.86" y2="812.7" stroke="#aaa" stroke-width="1"/>
<line x1="313.47" y1="809.7" x2="313.47" y2="812.7" stroke="#aaa" stroke-width="1"/>
<line x1="348.08" y1="809.7" x2="348.08" y2="812.7" stroke="#aaa" stroke-width="1"/>
<line x1="382.69" y1="809.7" x2="382.69" y2="812.7" stroke="#aaa" stroke-width="1"/>
<line x1="417.3" y1="809.7" x2="417.3" y2="812.7" stroke="#aaa" stroke-width="1"/>
<line x1="451.91" y1="809.7" x2="451.91" y2="812.7" stroke="#aaa" stroke-width="1"/>
<text x="82.81" y="825.1" font-size="13.8" text-anchor="end" fill="#1a1a1a" stroke="#1a1a1a" stroke-width="0.3" transform="rotate(-45 82.81 825.1)">platelets alone</text>
<text x="118.25" y="824.4" font-size="13.8" text-anchor="end" fill="#1a1a1a" stroke="#1a1a1a" stroke-width="0.3" transform="rotate(-45 118.25 824.4)">platelets and CD3</text>
<text x="152.97" y="826" font-size="13.8" text-anchor="end" fill="#1a1a1a" stroke="#1a1a1a" stroke-width="0.3" transform="rotate(-45 152.97 826)">resting platelets</text>
<text x="200.61" y="815.2" font-size="13.8" text-anchor="end" fill="#1a1a1a" stroke="#1a1a1a" stroke-width="0.3" transform="rotate(-45 200.61 815.2)">0.5 U/mL</text>
<text x="236.84" y="814.4" font-size="13.8" text-anchor="end" fill="#1a1a1a" stroke="#1a1a1a" stroke-width="0.3" transform="rotate(-45 236.84 814.4)">1 U/mL</text>
<text x="271.47" y="814.4" font-size="13.8" text-anchor="end" fill="#1a1a1a" stroke="#1a1a1a" stroke-width="0.3" transform="rotate(-45 271.47 814.4)">2 U/mL</text>
<text x="305.3" y="815.2" font-size="13.8" text-anchor="end" fill="#1a1a1a" stroke="#1a1a1a" stroke-width="0.3" transform="rotate(-45 305.3 815.2)">5 U/mL</text>
<text x="331.43" y="816.7" font-size="13.8" text-anchor="end" fill="#1a1a1a" stroke="#1a1a1a" stroke-width="0.3" transform="rotate(-45 331.43 816.7)">100 µM</text>
<text x="371.46" y="819.8" font-size="13.8" text-anchor="end" fill="#1a1a1a" stroke="#1a1a1a" stroke-width="0.3" transform="rotate(-45 371.46 819.8)">200 µM</text>
<text x="404.99" y="818.6" font-size="13.8" text-anchor="end" fill="#1a1a1a" stroke="#1a1a1a" stroke-width="0.3" transform="rotate(-45 404.99 818.6)">300 µM</text>
<text x="436.12" y="818.6" font-size="13.8" text-anchor="end" fill="#1a1a1a" stroke="#1a1a1a" stroke-width="0.3" transform="rotate(-45 436.12 818.6)">400 µM</text>
<line x1="52.5" y1="313.9" x2="56.5" y2="313.9" stroke="#aaa" stroke-width="1"/>
<text transform="translate(2.6 21.9) scale(1 1.0)" x="0" y="0" font-size="30.7" font-weight="bold" fill="#111">A</text>
<text transform="translate(2.7 319.0) scale(1 1.092)" x="0" y="0" font-size="28.4" font-weight="bold" fill="#111">B</text>
<text transform="translate(3.1 662.1) scale(1 1.094)" x="0" y="0" font-size="27.9" font-weight="bold" fill="#111">C</text>
<text x="16.2" y="119.15" font-size="12.6" font-weight="bold" text-anchor="middle" fill="#111" transform="rotate(-90 16.2 119.15)">FITC-Fibrinogen Binding</text>
<text x="29.8" y="117.25" font-size="12.6" font-weight="bold" text-anchor="middle" fill="#111" transform="rotate(-90 29.8 117.25)">Mean Fluorescence Intensity</text>
<text x="17.7" y="422" font-size="13.6" font-weight="bold" text-anchor="middle" fill="#111" transform="rotate(-90 17.7 422)">JON/A-PE Binding</text>
<text x="32.8" y="423.2" font-size="13.8" font-weight="bold" text-anchor="middle" fill="#111" transform="rotate(-90 32.8 423.2)">Mean Fluorescence Intensity</text>
<text x="17.5" y="753.7" font-size="13.75" font-weight="bold" text-anchor="middle" fill="#111" transform="rotate(-90 17.5 753.7)">P-selectin exposure</text>
<text x="34.7" y="760" font-size="13.8" font-weight="bold" text-anchor="middle" fill="#111" transform="rotate(-90 34.7 760)">Mean fluorescence intensity</text>
<rect x="91.2" y="52.3" width="5.7" height="5.4" fill="#000"/>
<text x="100" y="60.2" font-size="12" font-weight="bold" text-anchor="start" fill="#111">+/+</text>
<rect x="92.4" y="72.4" width="6.4" height="4.6" fill="#fff" stroke="#999" stroke-width="1"/>
<text x="101.9" y="80.4" font-size="12" font-weight="bold" text-anchor="start" fill="#111">-/-</text>
<rect x="70.5" y="333.3" width="10.1" height="9.8" fill="#000"/>
<text x="88" y="345" font-size="18" text-anchor="start" fill="#111" stroke="#111" stroke-width="0.3">+/+</text>
<rect x="71.2" y="354.3" width="11.6" height="11.6" fill="#fff" stroke="#111" stroke-width="1.5"/>
<text x="90.3" y="366.8" font-size="18" text-anchor="start" fill="#111" stroke="#111" stroke-width="0.3">-/-</text>
<rect x="79.6" y="666.7" width="13.9" height="14.6" fill="#000"/>
<text x="103.2" y="680" font-size="13" text-anchor="start" fill="#111" stroke="#111" stroke-width="0.3">+/+</text>
<rect x="80.9" y="691.8" width="12.8" height="14.2" fill="#fff" stroke="#bbb" stroke-width="1.4"/>
<text x="108.7" y="703.5" font-size="13" text-anchor="start" fill="#111" stroke="#111" stroke-width="0.3">-/-</text>
<text x="184.2" y="875.3" font-size="13.6" text-anchor="start" fill="#1a1a1a" stroke="#1a1a1a" stroke-width="0.3">Thrombin</text>
<text x="344.3" y="875.2" font-size="13.6" text-anchor="start" fill="#1a1a1a" stroke="#1a1a1a" stroke-width="0.3">PAR-4</text>
<text x="219.5" y="911.5" font-size="18.8" font-weight="bold" text-anchor="start" fill="#111">Agonist</text>
</svg>
</body></html>
